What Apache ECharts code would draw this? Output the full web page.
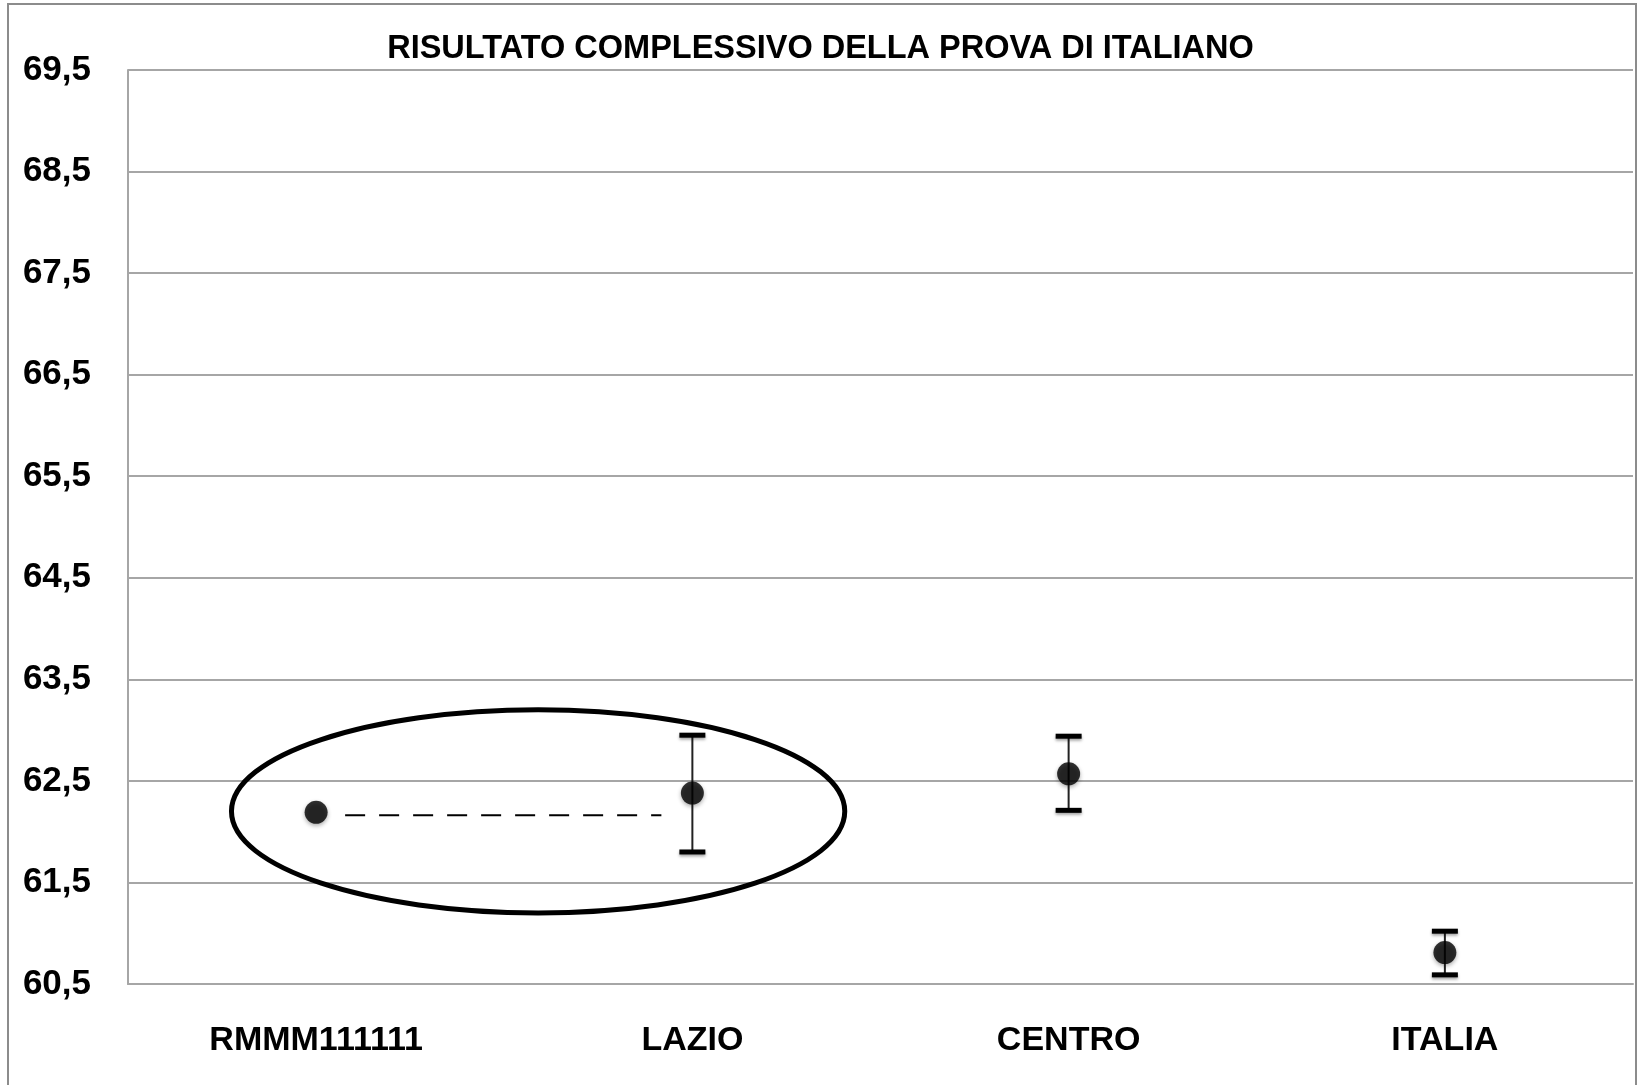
<!DOCTYPE html>
<html>
<head>
<meta charset="utf-8">
<script src="https://cdn.jsdelivr.net/npm/echarts@6/dist/echarts.min.js"></script>
<style>
html,body{margin:0;padding:0;background:#fff;}
#chart{width:1641px;height:1085px;}
</style>
</head>
<body>
<div id="chart"></div>
<script>
// ---- data ----
const categories = ['RMMM111111', 'LAZIO', 'CENTRO', 'ITALIA'];
const means = [62.19, 62.38, 62.57, 60.81];
const lowerBound = [null, 61.80, 62.21, 60.59];
const upperBound = [null, 62.95, 62.94, 61.02];
const yTickValues = [60.5, 61.5, 62.5, 63.5, 64.5, 65.5, 66.5, 67.5, 68.5, 69.5];
const yTickLabels = ['60,5', '61,5', '62,5', '63,5', '64,5', '65,5', '66,5', '67,5', '68,5', '69,5'];
const titleText = 'RISULTATO COMPLESSIVO DELLA PROVA DI ITALIANO';

// annotation: ellipse around school vs region, dashed comparison line
const ellipseValue = 62.2;      // vertical centre (axis units)
const ellipseHalfRange = 1.0;   // half height (axis units)
const ellipseCenterFrac = 0.59; // horizontal centre between cat 0 and cat 1
const ellipseHalfWidthFrac = 0.815;

const FONT = "'Liberation Sans', Arial, sans-serif";

const errData = [];
for (let i = 0; i < categories.length; i++) {
  if (lowerBound[i] != null) errData.push([i, lowerBound[i], upperBound[i]]);
}

const chart = echarts.init(document.getElementById('chart'), null, {renderer: 'canvas'});
chart.setOption({
  animation: false,
  backgroundColor: '#fff',
  title: {
    text: titleText,
    left: 'center',
    top: 28,
    textStyle: {fontFamily: FONT, fontSize: 32.5, fontWeight: 'bold', color: '#000'}
  },
  graphic: [{
    type: 'rect',
    shape: {x: 8, y: 4, width: 1628, height: 1110},
    style: {fill: 'none', stroke: '#8c8c8c', lineWidth: 2},
    silent: true
  }],
  grid: {left: 128, top: 70, right: 8, bottom: 101, containLabel: false},
  xAxis: {
    type: 'category',
    data: categories,
    boundaryGap: true,
    axisLine: {show: true, lineStyle: {color: '#a6a6a6', width: 2}},
    axisTick: {show: false},
    axisLabel: {fontFamily: FONT, fontSize: 34, fontWeight: 'bold', color: '#000', margin: 40},
    splitLine: {show: false}
  },
  yAxis: {
    type: 'value',
    min: 60.5,
    max: 69.5,
    interval: 1,
    axisLine: {show: true, lineStyle: {color: '#a6a6a6', width: 2}},
    axisTick: {show: false},
    axisLabel: {
      fontFamily: FONT, fontSize: 35, fontWeight: 'bold', color: '#000', margin: 37,
      formatter: function (v) {
        const idx = yTickValues.findIndex(t => Math.abs(t - v) < 1e-6);
        return idx >= 0 ? yTickLabels[idx] : '';
      }
    },
    splitLine: {show: true, lineStyle: {color: '#a6a6a6', width: 2}}
  },
  series: [
    {
      type: 'custom',
      name: 'ellipse',
      data: [[0, ellipseValue]],
      clip: false,
      z: 4,
      renderItem: function (params, api) {
        const a = api.coord([0, ellipseValue]);
        const b = api.coord([1, ellipseValue]);
        const top = api.coord([0, ellipseValue + ellipseHalfRange]);
        const step = b[0] - a[0];
        return {
          type: 'ellipse',
          shape: {cx: a[0] + step * ellipseCenterFrac, cy: a[1], rx: step * ellipseHalfWidthFrac, ry: a[1] - top[1]},
          style: {fill: 'none', stroke: '#000', lineWidth: 5}
        };
      }
    },
    {
      type: 'custom',
      name: 'dashed',
      data: [[0, means[0]]],
      clip: false,
      z: 3,
      renderItem: function (params, api) {
        const a = api.coord([0, means[0]]);
        const b = api.coord([1, means[0]]);
        return {
          type: 'line',
          shape: {x1: a[0] + 29, y1: a[1] + 3, x2: b[0] - 31, y2: a[1] + 3},
          style: {stroke: '#000', lineWidth: 2, lineDash: [20, 14]}
        };
      }
    },
    {
      type: 'custom',
      name: 'errors',
      data: errData,
      clip: false,
      z: 5,
      renderItem: function (params, api) {
        const x = api.value(0);
        const lo = api.coord([x, api.value(1)]);
        const hi = api.coord([x, api.value(2)]);
        const capW = 26, capH = 5;
        const shadow = {shadowBlur: 3, shadowColor: 'rgba(0,0,0,0.35)', shadowOffsetY: 2};
        return {
          type: 'group',
          children: [
            {type: 'line', shape: {x1: hi[0], y1: hi[1], x2: lo[0], y2: lo[1]},
             style: {stroke: '#222', lineWidth: 2}},
            {type: 'rect', shape: {x: hi[0] - capW / 2, y: hi[1] - capH / 2, width: capW, height: capH},
             style: Object.assign({fill: '#000'}, shadow)},
            {type: 'rect', shape: {x: lo[0] - capW / 2, y: lo[1] - capH / 2, width: capW, height: capH},
             style: Object.assign({fill: '#000'}, shadow)}
          ]
        };
      }
    },
    {
      type: 'scatter',
      name: 'media',
      data: means,
      symbol: 'circle',
      symbolSize: 23,
      z: 6,
      itemStyle: {color: '#000', shadowBlur: 4, shadowColor: 'rgba(0,0,0,0.4)', shadowOffsetY: 2}
    }
  ]
});
</script>
</body>
</html>
